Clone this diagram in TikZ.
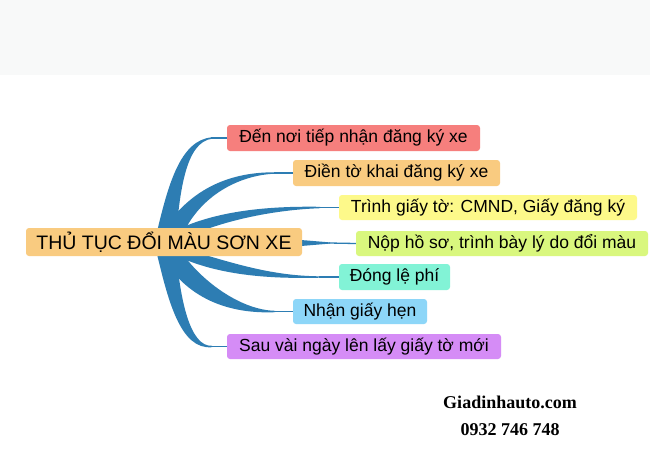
\documentclass[tikz,border=0pt]{standalone}
\usepackage{fontspec}
\setmainfont{Liberation Sans}
\newfontfamily\wmfont{Liberation Serif}
\definecolor{brc}{HTML}{2D7DB3}
\definecolor{cred}{HTML}{F67F7D}
\definecolor{corange}{HTML}{F9CB80}
\definecolor{cyellow}{HTML}{FDF98A}
\definecolor{cgreen}{HTML}{D9F77E}
\definecolor{cteal}{HTML}{82F3D6}
\definecolor{cblue}{HTML}{8DD6F8}
\definecolor{cpurple}{HTML}{D58CF6}
\definecolor{band}{HTML}{F8F9F9}
\begin{document}
\begin{tikzpicture}[x=1pt,y=-1pt,
  box/.style={rounded corners=3pt, inner sep=0pt, font=\fontsize{17.5}{20}\selectfont},
  central/.style={box, fill=corange, font=\fontsize{19.5}{22}\selectfont},
  branch/.style={fill=brc, draw=none},
  twig/.style={draw=brc, line width=1.3pt},
  wm/.style={font=\wmfont\bfseries\fontsize{18}{20}\selectfont, anchor=base}]
\useasboundingbox (0,0) rectangle (650,450);
\fill[white] (0,0) rectangle (650,450);
\fill[band] (0,0) rectangle (650,75);

% branches
\fill[branch] (156,236) .. controls (168,185) and (180,140) .. (212,137.3) -- (212,138.7) .. controls (186,142) and (180,190) .. (176,236) -- cycle;
\fill[branch] (160,236) .. controls (190,185) and (235,172) .. (275,172.3) -- (275,173.7) .. controls (240,175) and (200,195) .. (182,236) -- cycle;
\fill[branch] (165,236) .. controls (210,210) and (270,206) .. (320,206.8) -- (320,208.2) .. controls (270,210) and (220,222) .. (190,236) -- cycle;
\fill[branch] (295,239.5) -- (330,242.4) -- (330,243.6) -- (295,246.5) -- cycle;
\fill[branch] (188,250) .. controls (230,262) and (270,276) .. (320,276.3) -- (320,277.7) .. controls (265,279) and (210,275) .. (165,250) -- cycle;
\fill[branch] (180,250) .. controls (200,280) and (240,310) .. (275,310.8) -- (275,312.2) .. controls (230,314) and (185,300) .. (158,250) -- cycle;
\fill[branch] (176,250) .. controls (180,300) and (190,347) .. (212,345.8) -- (212,347.2) .. controls (180,350) and (168,300) .. (156,250) -- cycle;

% nodes
\node[central, minimum width=276pt, minimum height=28pt] (c) at (164,242) {THỦ TỤC ĐỔI MÀU SƠN XE};
\node[box, fill=cred, minimum width=253pt, minimum height=26pt] (n1) at (353.5,138) {Đến nơi tiếp nhận đăng ký xe};
\node[box, fill=corange, minimum width=207pt, minimum height=26pt] (n2) at (396.5,173) {Điền tờ khai đăng ký xe};
\node[box, fill=cyellow, minimum width=298pt, minimum height=25pt] (n3) at (488,207.5) {Trình giấy tờ: CMND, Giấy đăng ký};
\node[box, fill=cgreen, minimum width=292pt, minimum height=25pt] (n4) at (502,243.5) {Nộp hồ sơ, trình bày lý do đổi màu};
\node[box, fill=cteal, minimum width=111pt, minimum height=26pt] (n5) at (394.5,277) {Đóng lệ phí};
\node[box, fill=cblue, minimum width=134pt, minimum height=25pt] (n6) at (360,311.5) {Nhận giấy hẹn};
\node[box, fill=cpurple, minimum width=274pt, minimum height=25pt] (n7) at (364,346.5) {Sau vài ngày lên lấy giấy tờ mới};

% twigs
\coordinate (t1) at (211,138);
\coordinate (t2) at (274,173);
\coordinate (t3) at (319,207.5);
\coordinate (t4) at (329,243);
\coordinate (t5) at (319,277);
\coordinate (t6) at (274,311.5);
\coordinate (t7) at (211,346.5);
\draw[twig] (t1) -- (n1.west);
\draw[twig] (t2) -- (n2.west);
\draw[twig] (t3) -- (n3.west);
\draw[twig] (t4) -- (n4.west);
\draw[twig] (t5) -- (n5.west);
\draw[twig] (t6) -- (n6.west);
\draw[twig] (t7) -- (n7.west);

% watermark
\node[wm] (w1) at (510,408) {Giadinhauto.com};
\node[wm] (w2) at (510,435) {0932 746 748};
\end{tikzpicture}
\end{document}
